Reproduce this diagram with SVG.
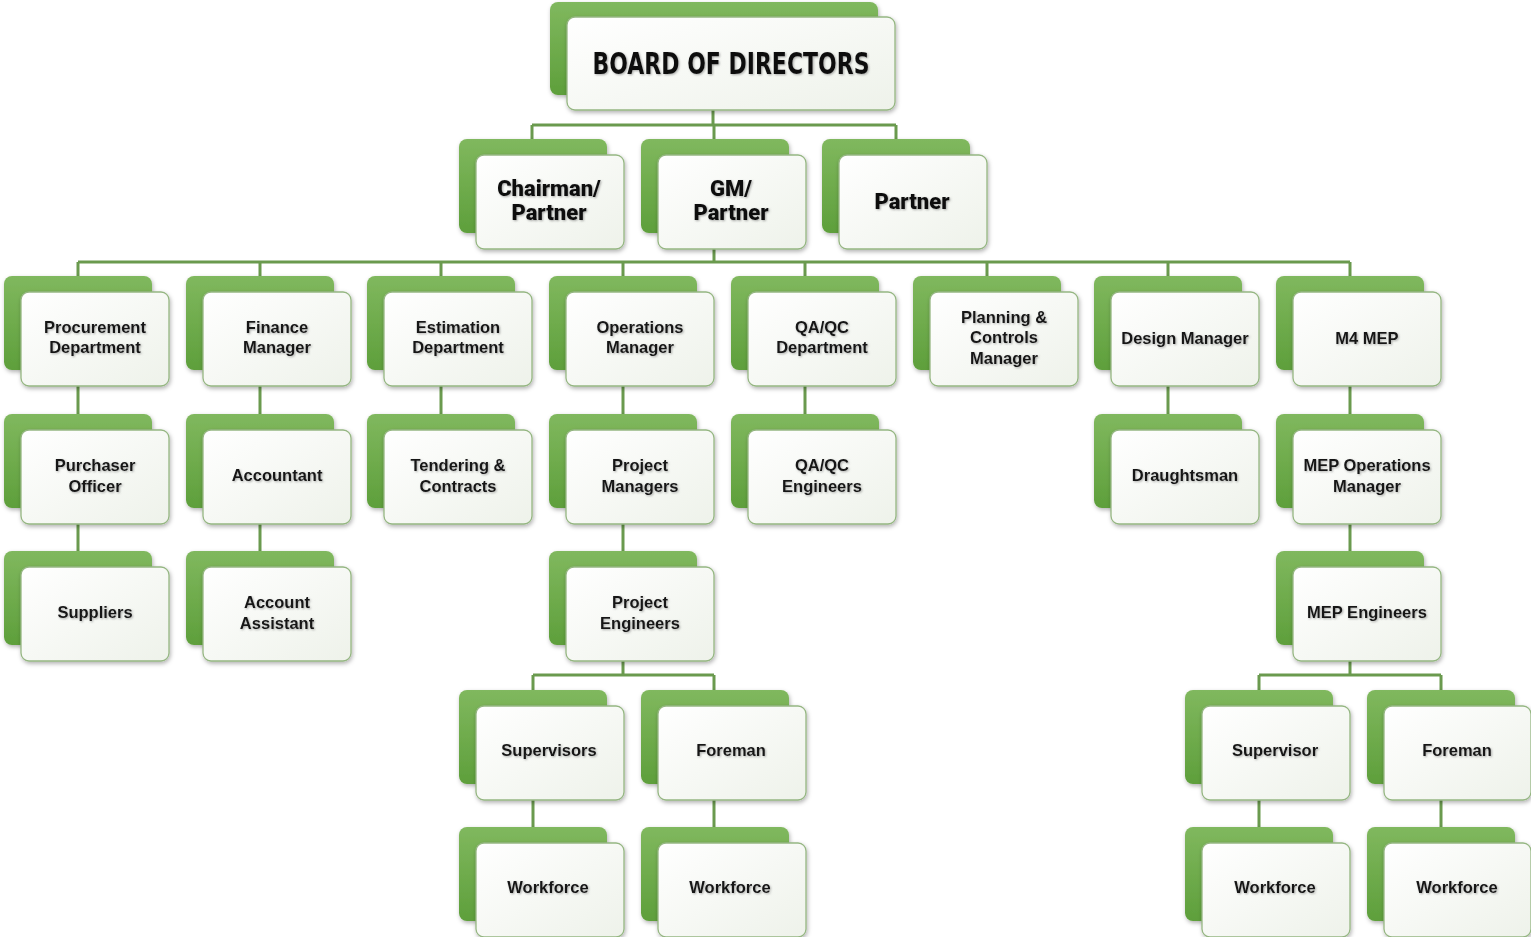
<svg xmlns="http://www.w3.org/2000/svg" width="1531" height="937" viewBox="0 0 1531 937">
<defs>
<linearGradient id="gBack" x1="0" y1="0" x2="0" y2="1">
<stop offset="0" stop-color="#80b85e"/>
<stop offset="1" stop-color="#5e9f3b"/>
</linearGradient>
<linearGradient id="gFront" x1="0" y1="0" x2="1" y2="1">
<stop offset="0" stop-color="#ffffff"/>
<stop offset="1" stop-color="#eef2ea"/>
</linearGradient>
<filter id="sh" x="-10%" y="-10%" width="125%" height="130%">
<feDropShadow dx="1" dy="2" stdDeviation="2" flood-color="#000" flood-opacity="0.3"/>
</filter>
<filter id="tsh" x="-10%" y="-20%" width="120%" height="150%">
<feDropShadow dx="1" dy="1" stdDeviation="0.8" flood-color="#666" flood-opacity="0.55"/>
</filter>
</defs>
<style>
.back{fill:url(#gBack);filter:url(#sh)}
.front{fill:url(#gFront);stroke:#95b682;stroke-width:1.3;filter:url(#sh)}
.t{font-family:"Liberation Sans",Arial,sans-serif;font-weight:bold;font-size:16.5px;fill:#151515;text-anchor:middle;filter:url(#tsh)}
.t2{font-family:Roboto,"Liberation Sans",sans-serif;font-weight:900;font-size:22px;fill:#111;text-anchor:middle;filter:url(#tsh)}
.t1{font-family:"DejaVu Sans Condensed","DejaVu Sans",sans-serif;font-weight:bold;font-size:30px;fill:#111;text-anchor:middle;filter:url(#tsh)}
.c{stroke:#6a9a4e;stroke-width:3;fill:none}
</style>
<rect width="1531" height="937" fill="#ffffff"/>
<g id="connectors">
<path class="c" d="M713 108V125M532 125H896M532 125V140M714 125V140M896 125V140"/>
<path class="c" d="M714 247V262M78 262H1350M78 262V277M260 262V277M441 262V277M623 262V277M805 262V277M987 262V277M1168 262V277M1350 262V277"/>
<path class="c" d="M78 385V415M260 385V415M441 385V415M623 385V415M805 385V415M1168 385V415M1350 385V415"/>
<path class="c" d="M78 523V552M260 523V552M623 523V552M1350 523V552"/>
<path class="c" d="M623 660V675M533 675H714M533 675V691M714 675V691"/>
<path class="c" d="M1350 660V675M1259 675H1441M1259 675V691M1441 675V691"/>
<path class="c" d="M533 798V828M714 798V828M1259 798V828M1441 798V828"/>
</g>
<g id="board">
<rect class="back" x="550" y="2" width="328" height="93" rx="8"/>
<rect class="front" x="567" y="17" width="328" height="93" rx="8"/>
<text class="t1" x="731" y="74" textLength="277" lengthAdjust="spacingAndGlyphs">BOARD OF DIRECTORS</text>
</g>
<g id="chairman" transform="translate(459,139)">
<rect class="back" width="148" height="94" rx="8"/>
<rect class="front" x="17" y="16" width="148" height="94" rx="8"/>
<text class="t2" x="90" y="57">Chairman/</text>
<text class="t2" x="90" y="81">Partner</text>
</g>
<g id="gm" transform="translate(641,139)">
<rect class="back" width="148" height="94" rx="8"/>
<rect class="front" x="17" y="16" width="148" height="94" rx="8"/>
<text class="t2" x="90" y="57">GM/</text>
<text class="t2" x="90" y="81">Partner</text>
</g>
<g id="partner" transform="translate(822,139)">
<rect class="back" width="148" height="94" rx="8"/>
<rect class="front" x="17" y="16" width="148" height="94" rx="8"/>
<text class="t2" x="90" y="70">Partner</text>
</g>
<g id="procurement" transform="translate(4,276)">
<rect class="back" width="148" height="94" rx="8"/>
<rect class="front" x="17" y="16" width="148" height="94" rx="8"/>
<text class="t" x="91" y="57">Procurement</text>
<text class="t" x="91" y="77">Department</text>
</g>
<g id="finance" transform="translate(186,276)">
<rect class="back" width="148" height="94" rx="8"/>
<rect class="front" x="17" y="16" width="148" height="94" rx="8"/>
<text class="t" x="91" y="57">Finance</text>
<text class="t" x="91" y="77">Manager</text>
</g>
<g id="estimation" transform="translate(367,276)">
<rect class="back" width="148" height="94" rx="8"/>
<rect class="front" x="17" y="16" width="148" height="94" rx="8"/>
<text class="t" x="91" y="57">Estimation</text>
<text class="t" x="91" y="77">Department</text>
</g>
<g id="operations" transform="translate(549,276)">
<rect class="back" width="148" height="94" rx="8"/>
<rect class="front" x="17" y="16" width="148" height="94" rx="8"/>
<text class="t" x="91" y="57">Operations</text>
<text class="t" x="91" y="77">Manager</text>
</g>
<g id="qaqc" transform="translate(731,276)">
<rect class="back" width="148" height="94" rx="8"/>
<rect class="front" x="17" y="16" width="148" height="94" rx="8"/>
<text class="t" x="91" y="57">QA/QC</text>
<text class="t" x="91" y="77">Department</text>
</g>
<g id="planning" transform="translate(913,276)">
<rect class="back" width="148" height="94" rx="8"/>
<rect class="front" x="17" y="16" width="148" height="94" rx="8"/>
<text class="t" x="91" y="47">Planning &amp;</text>
<text class="t" x="91" y="67">Controls</text>
<text class="t" x="91" y="88">Manager</text>
</g>
<g id="design" transform="translate(1094,276)">
<rect class="back" width="148" height="94" rx="8"/>
<rect class="front" x="17" y="16" width="148" height="94" rx="8"/>
<text class="t" x="91" y="68">Design Manager</text>
</g>
<g id="m4mep" transform="translate(1276,276)">
<rect class="back" width="148" height="94" rx="8"/>
<rect class="front" x="17" y="16" width="148" height="94" rx="8"/>
<text class="t" x="91" y="68">M4 MEP</text>
</g>
<g id="purchaser" transform="translate(4,414)">
<rect class="back" width="148" height="94" rx="8"/>
<rect class="front" x="17" y="16" width="148" height="94" rx="8"/>
<text class="t" x="91" y="57">Purchaser</text>
<text class="t" x="91" y="78">Officer</text>
</g>
<g id="accountant" transform="translate(186,414)">
<rect class="back" width="148" height="94" rx="8"/>
<rect class="front" x="17" y="16" width="148" height="94" rx="8"/>
<text class="t" x="91" y="67">Accountant</text>
</g>
<g id="tendering" transform="translate(367,414)">
<rect class="back" width="148" height="94" rx="8"/>
<rect class="front" x="17" y="16" width="148" height="94" rx="8"/>
<text class="t" x="91" y="57">Tendering &amp;</text>
<text class="t" x="91" y="78">Contracts</text>
</g>
<g id="projectmanagers" transform="translate(549,414)">
<rect class="back" width="148" height="94" rx="8"/>
<rect class="front" x="17" y="16" width="148" height="94" rx="8"/>
<text class="t" x="91" y="57">Project</text>
<text class="t" x="91" y="78">Managers</text>
</g>
<g id="qaqcengineers" transform="translate(731,414)">
<rect class="back" width="148" height="94" rx="8"/>
<rect class="front" x="17" y="16" width="148" height="94" rx="8"/>
<text class="t" x="91" y="57">QA/QC</text>
<text class="t" x="91" y="78">Engineers</text>
</g>
<g id="draughtsman" transform="translate(1094,414)">
<rect class="back" width="148" height="94" rx="8"/>
<rect class="front" x="17" y="16" width="148" height="94" rx="8"/>
<text class="t" x="91" y="67">Draughtsman</text>
</g>
<g id="mepops" transform="translate(1276,414)">
<rect class="back" width="148" height="94" rx="8"/>
<rect class="front" x="17" y="16" width="148" height="94" rx="8"/>
<text class="t" x="91" y="57">MEP Operations</text>
<text class="t" x="91" y="78">Manager</text>
</g>
<g id="suppliers" transform="translate(4,551)">
<rect class="back" width="148" height="94" rx="8"/>
<rect class="front" x="17" y="16" width="148" height="94" rx="8"/>
<text class="t" x="91" y="67">Suppliers</text>
</g>
<g id="accountassistant" transform="translate(186,551)">
<rect class="back" width="148" height="94" rx="8"/>
<rect class="front" x="17" y="16" width="148" height="94" rx="8"/>
<text class="t" x="91" y="57">Account</text>
<text class="t" x="91" y="78">Assistant</text>
</g>
<g id="projectengineers" transform="translate(549,551)">
<rect class="back" width="148" height="94" rx="8"/>
<rect class="front" x="17" y="16" width="148" height="94" rx="8"/>
<text class="t" x="91" y="57">Project</text>
<text class="t" x="91" y="78">Engineers</text>
</g>
<g id="mepengineers" transform="translate(1276,551)">
<rect class="back" width="148" height="94" rx="8"/>
<rect class="front" x="17" y="16" width="148" height="94" rx="8"/>
<text class="t" x="91" y="67">MEP Engineers</text>
</g>
<g id="supervisors" transform="translate(459,690)">
<rect class="back" width="148" height="94" rx="8"/>
<rect class="front" x="17" y="16" width="148" height="94" rx="8"/>
<text class="t" x="90" y="66">Supervisors</text>
</g>
<g id="foreman1" transform="translate(641,690)">
<rect class="back" width="148" height="94" rx="8"/>
<rect class="front" x="17" y="16" width="148" height="94" rx="8"/>
<text class="t" x="90" y="66">Foreman</text>
</g>
<g id="supervisor2" transform="translate(1185,690)">
<rect class="back" width="148" height="94" rx="8"/>
<rect class="front" x="17" y="16" width="148" height="94" rx="8"/>
<text class="t" x="90" y="66">Supervisor</text>
</g>
<g id="foreman2" transform="translate(1367,690)">
<rect class="back" width="148" height="94" rx="8"/>
<rect class="front" x="17" y="16" width="147" height="94" rx="8"/>
<text class="t" x="90" y="66">Foreman</text>
</g>
<g id="workforce1" transform="translate(459,827)">
<rect class="back" width="148" height="94" rx="8"/>
<rect class="front" x="17" y="16" width="148" height="94" rx="8"/>
<text class="t" x="89" y="66">Workforce</text>
</g>
<g id="workforce2" transform="translate(641,827)">
<rect class="back" width="148" height="94" rx="8"/>
<rect class="front" x="17" y="16" width="148" height="94" rx="8"/>
<text class="t" x="89" y="66">Workforce</text>
</g>
<g id="workforce3" transform="translate(1185,827)">
<rect class="back" width="148" height="94" rx="8"/>
<rect class="front" x="17" y="16" width="148" height="94" rx="8"/>
<text class="t" x="90" y="66">Workforce</text>
</g>
<g id="workforce4" transform="translate(1367,827)">
<rect class="back" width="148" height="94" rx="8"/>
<rect class="front" x="17" y="16" width="147" height="94" rx="8"/>
<text class="t" x="90" y="66">Workforce</text>
</g>
</svg>
